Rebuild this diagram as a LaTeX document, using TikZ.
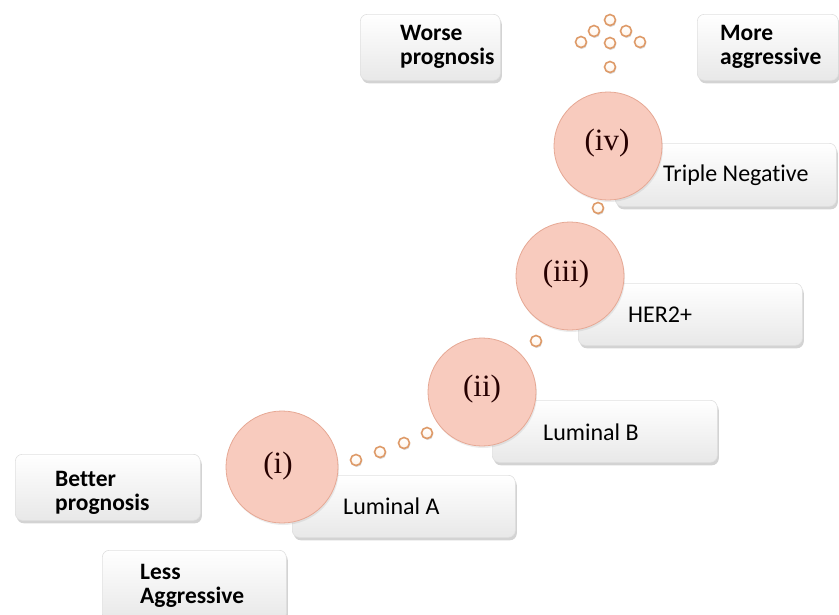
\documentclass[tikz,border=0pt]{standalone}
\usepackage{fontspec}
\setmainfont[Ligatures=NoCommon]{Carlito}
\newfontfamily\serifcirc{Liberation Serif}
\usetikzlibrary{shadows}
\definecolor{circfill}{HTML}{F8CBBE}
\definecolor{circdraw}{HTML}{E6A894}
\definecolor{dotdraw}{HTML}{DE9A68}
\tikzset{
  boxstyle/.style={rectangle, rounded corners=7pt, top color=white, bottom color=black!9,
    draw=black!12, line width=0.6pt, anchor=north west, inner sep=0pt,
    drop shadow={opacity=0.35, shadow xshift=1.5pt, shadow yshift=-3pt}},
  circstyle/.style={circle, fill=circfill, draw=circdraw, line width=0.8pt, inner sep=0pt,
    minimum size=108pt, drop shadow={opacity=0.15, shadow xshift=1pt, shadow yshift=-2pt}},
  circlabel/.style={font=\serifcirc\fontsize{31}{34}\selectfont, text=black!85!red},
  dotstyle/.style={circle, top color=white, bottom color=orange!8, draw=dotdraw, line width=1.6pt, inner sep=0pt,
    minimum size=11pt, drop shadow={opacity=0.3, shadow xshift=0.8pt, shadow yshift=-1.5pt}},
  plainlabel/.style={font=\fontsize{24}{26}\selectfont, anchor=base west, inner sep=0pt},
  boldlabel/.style={font=\bfseries\fontsize{23.5}{24}\selectfont, anchor=base west, inner sep=0pt, align=left}
}
\begin{document}
\begin{tikzpicture}[x=1pt,y=-1pt]
\useasboundingbox (0,0) rectangle (839,614);
% boxes
\node[boxstyle, minimum width=140pt, minimum height=66pt] (bworse) at (360,14) {};
\node[boxstyle, minimum width=141pt, minimum height=66pt] (bmore) at (697,14) {};
\node[boxstyle, minimum width=221pt, minimum height=63pt] (btn) at (615,143) {};
\node[boxstyle, minimum width=224pt, minimum height=62pt] (bher) at (578,283) {};
\node[boxstyle, minimum width=225pt, minimum height=62pt] (blb) at (492,400) {};
\node[boxstyle, minimum width=223pt, minimum height=62pt] (bla) at (292,475) {};
\node[boxstyle, minimum width=185pt, minimum height=66pt] (bbetter) at (15,454) {};
\node[boxstyle, minimum width=184pt, minimum height=70pt] (bless) at (102,550) {};
% box texts
\node[boldlabel] (tworse) at (400,64) {Worse\\prognosis};
\node[boldlabel] (tmore) at (720,64) {More\\aggressive};
\node[boldlabel] (tbetter) at (55,510) {Better\\prognosis};
\node[boldlabel] (tless) at (140,603) {Less\\Aggressive};
\node[plainlabel] (ttn) at (663,181) {Triple Negative};
\node[plainlabel] (ther) at (628,322) {HER2+};
\node[plainlabel] (tlb) at (543,440) {Luminal B};
\node[plainlabel] (tla) at (343,514) {Luminal A};
% circles
\node[circstyle] (civ) at (608,146) {};
\node[circstyle] (ciii) at (570,276) {};
\node[circstyle] (cii) at (482,392) {};
\node[circstyle, minimum size=112pt] (ci) at (282,467) {};
\node[circlabel] (liv) at (607,143) {(iv)};
\node[circlabel] (liii) at (566,274) {(iii)};
\node[circlabel] (lii) at (482,389) {(ii)};
\node[circlabel] (li) at (278,466) {(i)};
% dots
\node[dotstyle] (d1) at (356,460) {};
\node[dotstyle] (d2) at (380,452) {};
\node[dotstyle] (d3) at (404,443) {};
\node[dotstyle] (d4) at (427,433) {};
\node[dotstyle] (d5) at (536,341) {};
\node[dotstyle] (d6) at (598,208) {};
\node[dotstyle] (d7) at (610,67) {};
\node[dotstyle] (d8) at (610,43) {};
\node[dotstyle] (d9) at (581,42) {};
\node[dotstyle] (d10) at (640,42) {};
\node[dotstyle] (d11) at (594,31) {};
\node[dotstyle] (d12) at (626,31) {};
\node[dotstyle] (d13) at (610,20) {};
\end{tikzpicture}
\end{document}
